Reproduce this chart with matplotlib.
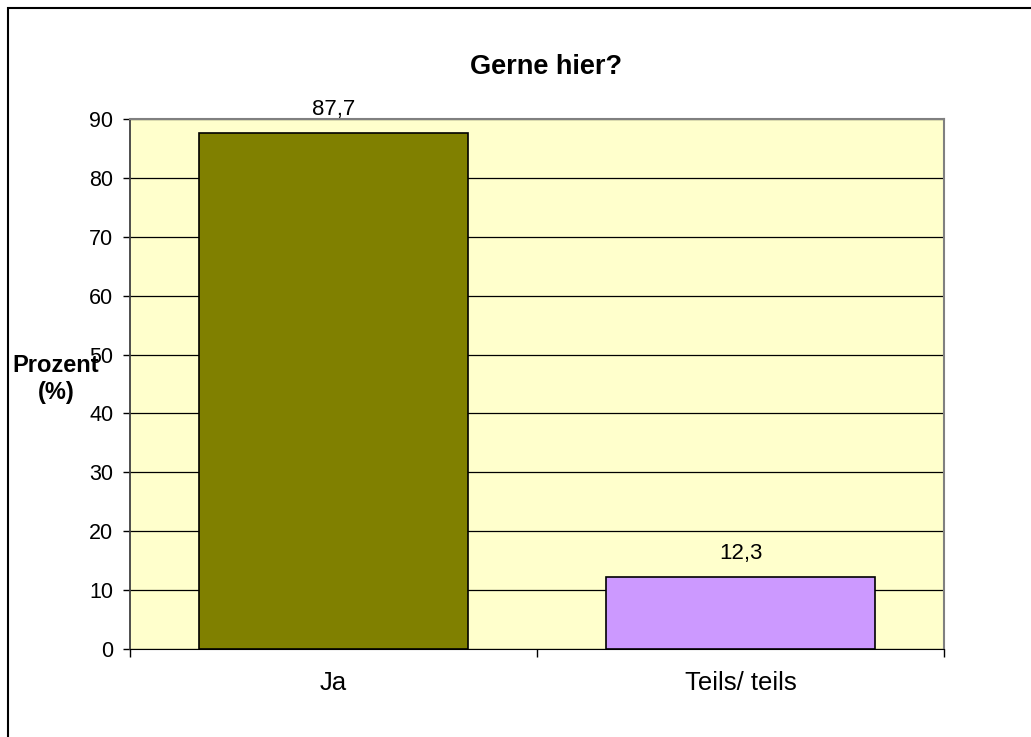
import matplotlib
matplotlib.use('Agg')
import matplotlib.pyplot as plt
from matplotlib.patches import Rectangle

# data
categories = ['Ja', 'Teils/ teils']
values = [87.7, 12.3]
value_labels = ['87,7', '12,3']
bar_colors = ['#808000', '#CC99FF']
yticks = [0, 10, 20, 30, 40, 50, 60, 70, 80, 90]

plt.rcParams['font.family'] = ['Liberation Sans', 'DejaVu Sans']

fig = plt.figure(figsize=(10.31, 7.37), dpi=100)
W, H = 1031, 737
# plot area in pixels: left 130, right 944, top 119, bottom 649
ax = fig.add_axes([130/W, 1-649/H, (944-130)/W, (649-119)/H])
ax.set_facecolor('#FFFFCC')

x = range(len(categories))
ax.bar(x, values, width=0.663, color=bar_colors, edgecolor='black', linewidth=1.2, zorder=3)
for xi, v, lab in zip(x, values, value_labels):
    ax.text(xi, v + 2.9, lab, ha='center', va='baseline', fontsize=16, zorder=4)

ax.set_xlim(-0.5, 1.5)
ax.set_ylim(0, 90)
ax.set_yticks(yticks)
ax.set_yticklabels([str(t) for t in yticks], fontsize=15.5)
ax.yaxis.grid(True, color='black', linewidth=0.9, zorder=1)
ax.set_axisbelow(True)

# category ticks at boundaries, labels at centres
ax.set_xticks([-0.5, 0.5, 1.5])
ax.set_xticklabels(['', '', ''])
ax.set_xticks(list(x), minor=True)
ax.set_xticklabels(categories, minor=True, fontsize=18.5)
ax.tick_params(axis='x', which='minor', length=0, pad=16)
ax.tick_params(axis='x', which='major', length=6, width=1, color='black', direction='out')
ax.tick_params(axis='y', length=5, width=1, color='black', direction='out', pad=7)

for s in ['top', 'right']:
    ax.spines[s].set_color('#808080')
    ax.spines[s].set_linewidth(1.5)
ax.spines['left'].set_color('#404040')
ax.spines['left'].set_linewidth(1.3)
ax.spines['bottom'].set_color('black')

fig.text(546/W, 1-67/H, 'Gerne hier?', ha='center', va='center', fontsize=19.5, fontweight='bold')
fig.text(56/W, 1-379/H, 'Prozent\n(%)', ha='center', va='center', fontsize=17,
         fontweight='bold', linespacing=1.25)

# chart border
fig.patches.append(Rectangle((8/W, -0.1), 1.2, 1-8/H+0.1, transform=fig.transFigure,
                             fill=False, edgecolor='black', linewidth=1.5))

fig.savefig('out.png', dpi=100)
